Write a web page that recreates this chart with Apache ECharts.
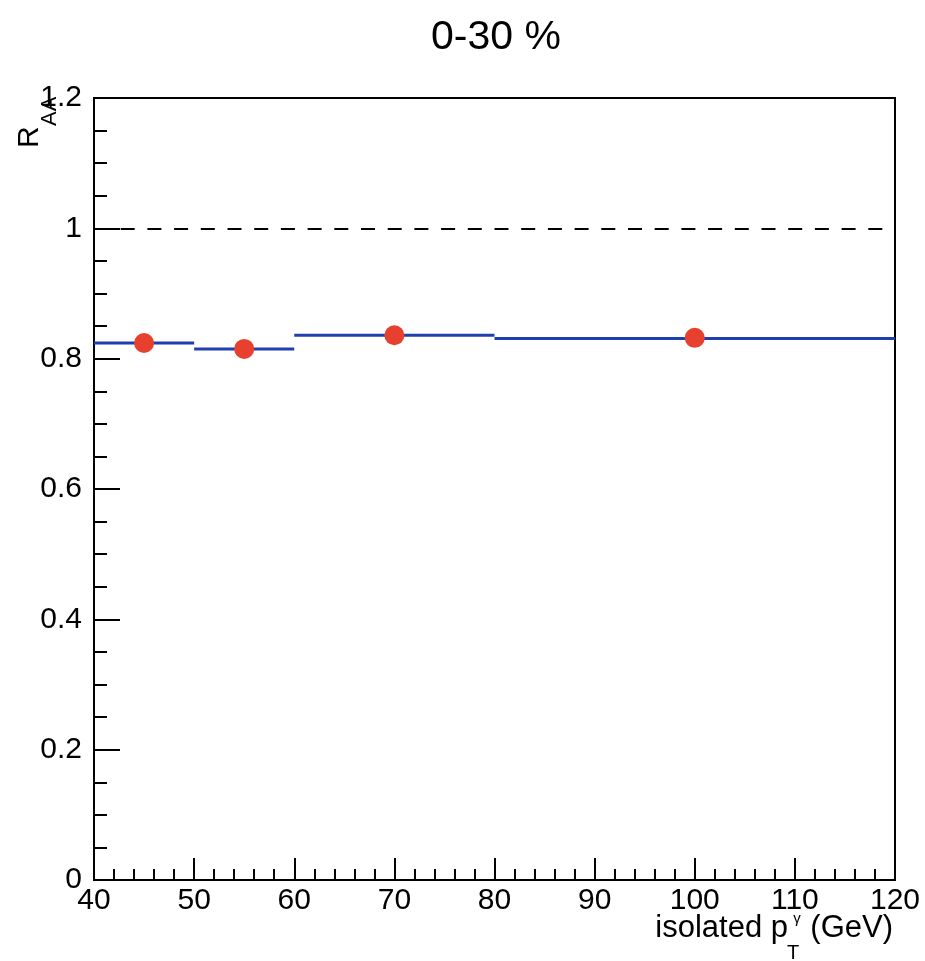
<!DOCTYPE html>
<html>
<head>
<meta charset="utf-8">
<title>RAA 0-30 %</title>
<script src="https://cdn.jsdelivr.net/npm/echarts@6/dist/echarts.min.js"></script>
<style>
  html, body { margin: 0; padding: 0; background: #fff; }
  #chart { width: 925px; height: 961px; }
</style>
</head>
<body>
<div id="chart"></div>
<script>
"use strict";

// bin edges and bin contents (blue horizontal steps)
var binLow = [40, 50, 60, 80];
var binHigh = [50, 60, 80, 120];
var binValue = [0.824, 0.815, 0.836, 0.831];

// red markers
var pointX = [45, 55, 70, 100];
var pointY = [0.824, 0.815, 0.836, 0.832];

// reference line at 1
var refLevel = 1;

var FONT = 'Liberation Sans, Arial, Helvetica, sans-serif';

var binData = [];
for (var i = 0; i < binLow.length; i++) {
    binData.push([binLow[i], binHigh[i], binValue[i]]);
}
var pointData = [];
for (var j = 0; j < pointX.length; j++) {
    pointData.push([pointX[j], pointY[j]]);
}

var myChart = echarts.init(document.getElementById('chart'));

var option = {
    backgroundColor: '#ffffff',
    animation: false,
    title: {
        text: '0-30 %',
        left: 491,
        top: 12,
        textAlign: 'center',
        textStyle: { fontFamily: FONT, fontSize: 41, fontWeight: 'normal', color: '#000' }
    },
    grid: {
        left: 94, right: 30, top: 98, bottom: 81,
        show: true, borderColor: '#000', borderWidth: 2, backgroundColor: 'transparent'
    },
    xAxis: {
        type: 'value',
        min: 40, max: 120, interval: 10,
        splitLine: { show: false },
        axisLine: { lineStyle: { color: '#000', width: 2 } },
        axisTick: { inside: true, length: 22, lineStyle: { color: '#000', width: 2 } },
        minorTick: { show: true, splitNumber: 5, length: 11, lineStyle: { color: '#000', width: 2 } },
        axisLabel: { fontFamily: FONT, fontSize: 30, color: '#000', margin: 6 }
    },
    yAxis: {
        type: 'value',
        min: 0, max: 1.2, interval: 0.2,
        splitLine: { show: false },
        axisLine: { lineStyle: { color: '#000', width: 2 } },
        axisTick: { inside: true, length: 26, lineStyle: { color: '#000', width: 2 } },
        minorTick: { show: true, splitNumber: 4, length: 13, lineStyle: { color: '#000', width: 2 } },
        axisLabel: { fontFamily: FONT, fontSize: 30, color: '#000', margin: 12 }
    },
    graphic: [
        // y title R_AA, rotated
        { type: 'text', x: 30, y: 148, rotation: Math.PI / 2,
          style: { text: 'R', fontFamily: FONT, fontSize: 30, fill: '#000', align: 'left', verticalAlign: 'middle' } },
        { type: 'text', x: 50, y: 126, rotation: Math.PI / 2,
          style: { text: 'AA', fontFamily: FONT, fontSize: 22, fill: '#000', align: 'left', verticalAlign: 'middle' } },
        // x title: isolated p_T^gamma (GeV)
        { type: 'text', x: 788, y: 913,
          style: { text: 'isolated p', fontFamily: FONT, fontSize: 31, fill: '#000', align: 'right', verticalAlign: 'top' } },
        { type: 'text', x: 793, y: 943,
          style: { text: 'T', fontFamily: FONT, fontSize: 20, fill: '#000', align: 'center', verticalAlign: 'top' } },
        { type: 'text', x: 797, y: 911,
          style: { text: '\u03b3', fontFamily: FONT, fontSize: 15, fill: '#000', align: 'center', verticalAlign: 'top' } },
        { type: 'text', x: 893, y: 913,
          style: { text: '(GeV)', fontFamily: FONT, fontSize: 31, fill: '#000', align: 'right', verticalAlign: 'top' } }
    ],
    series: [
        {
            type: 'custom',
            name: 'bins',
            data: binData,
            encode: { x: [0, 1], y: 2 },
            z: 2,
            renderItem: function (params, api) {
                var p1 = api.coord([api.value(0), api.value(2)]);
                var p2 = api.coord([api.value(1), api.value(2)]);
                return {
                    type: 'line',
                    shape: { x1: p1[0], y1: p1[1], x2: p2[0], y2: p2[1] },
                    style: { stroke: '#1f3fae', lineWidth: 3 }
                };
            }
        },
        {
            type: 'scatter',
            name: 'points',
            data: pointData,
            symbol: 'circle',
            symbolSize: 20,
            z: 3,
            itemStyle: { color: '#e8402e', opacity: 1 },
            markLine: {
                silent: true,
                symbol: 'none',
                label: { show: false },
                lineStyle: { color: '#000', width: 2, type: [14, 12.7] },
                data: [[{ coord: [40, refLevel] }, { coord: [120, refLevel] }]]
            }
        }
    ]
};

myChart.setOption(option);
</script>
</body>
</html>
